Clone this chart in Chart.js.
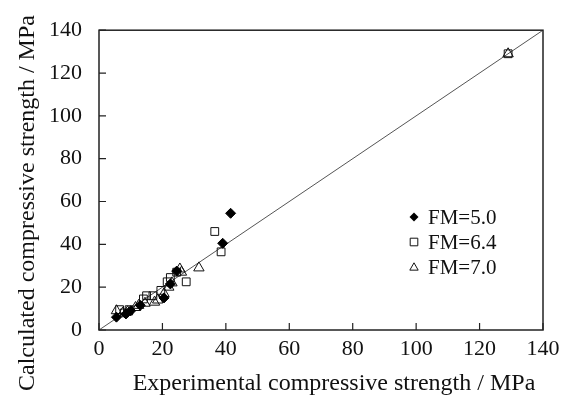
<!DOCTYPE html>
<html>
<head>
<meta charset="utf-8">
<script src="https://cdn.jsdelivr.net/npm/chart.js@4/dist/chart.umd.min.js"></script>
<style>
  html, body { margin: 0; padding: 0; background: #fff; }
  #wrap { width: 573px; height: 405px; }
</style>
</head>
<body>
<div id="wrap"><canvas id="chart" width="573" height="405"></canvas></div>
<script>
  "use strict";

  // measured points: [experimental, calculated]
  const fm50 = [[5.5, 6], [8.5, 7.5], [10, 9], [13, 11.5], [20.5, 15], [22.5, 21.5], [24.5, 27.5], [39, 40.5], [41.5, 54.5]];
  const fm64 = [[6.5, 9.5], [8, 8], [9.5, 9.5], [14, 14.5], [15, 16], [17, 16], [19.5, 18.5], [21.5, 22.5], [22.5, 24.5], [24.5, 27], [27.5, 22.5], [36.5, 46], [38.5, 36.5], [129, 129]];
  const fm70 = [[5.5, 9], [7.5, 8], [9, 8.5], [11.5, 10.5], [12.5, 11.5], [14.5, 12.5], [17.5, 13], [18.5, 14], [20.5, 17], [22, 20], [23, 22], [25.5, 28.5], [26, 27], [31.5, 29], [129, 129]];
  const diagonal = [[0, 0], [140, 140]];

  const legendLabels = ["FM=5.0", "FM=6.4", "FM=7.0"];
  const axisTicks = [0, 20, 40, 60, 80, 100, 120, 140];
  const xTitle = "Experimental compressive strength / MPa";
  const yTitle = "Calculated compressive strength / MPa";

  const serif = "'Liberation Serif', 'Times New Roman', serif";
  Chart.defaults.font.family = serif;
  Chart.defaults.color = "#111";

  const toXY = arr => arr.map(p => ({ x: p[0], y: p[1] }));

  function drawMarker(ctx, style, x, y, r) {
    ctx.save();
    ctx.lineWidth = 1;
    ctx.strokeStyle = "#111";
    ctx.beginPath();
    if (style === "rectRot") {
      ctx.moveTo(x, y - r); ctx.lineTo(x + r, y); ctx.lineTo(x, y + r); ctx.lineTo(x - r, y);
      ctx.closePath();
      ctx.fillStyle = "#000"; ctx.fill();
    } else if (style === "rect") {
      ctx.rect(x - r, y - r, 2 * r, 2 * r);
      ctx.fillStyle = "#fff"; ctx.fill(); ctx.stroke();
    } else {
      ctx.moveTo(x, y - r); ctx.lineTo(x + r, y + r * 0.75); ctx.lineTo(x - r, y + r * 0.75);
      ctx.closePath();
      ctx.fillStyle = "#fff"; ctx.fill(); ctx.stroke();
    }
    ctx.restore();
  }

  // frame, inward ticks, legend and axis titles
  const framePlugin = {
    id: "frame",
    afterDraw(chart) {
      const { ctx, chartArea: a, scales } = chart;
      ctx.save();
      ctx.strokeStyle = "#222";
      ctx.lineWidth = 1.5;
      ctx.strokeRect(a.left, a.top, a.right - a.left, a.bottom - a.top);
      ctx.lineWidth = 1.2;
      ctx.beginPath();
      axisTicks.forEach(v => {
        const px = scales.x.getPixelForValue(v);
        ctx.moveTo(px, a.bottom); ctx.lineTo(px, a.bottom - 7);
        const py = scales.y.getPixelForValue(v);
        ctx.moveTo(a.left, py); ctx.lineTo(a.left + 7, py);
      });
      ctx.stroke();

      // legend
      const styles = ["rectRot", "rect", "triangle"];
      const sizes = [4.5, 3.8, 4.2];
      ctx.font = "21px " + serif;
      ctx.fillStyle = "#111";
      ctx.textBaseline = "middle";
      ctx.textAlign = "left";
      legendLabels.forEach((lab, i) => {
        const y = 217 + i * 25;
        drawMarker(ctx, styles[i], 414, y, sizes[i]);
        ctx.fillText(lab, 428, y + 1);
      });

      // axis titles
      ctx.font = "24px " + serif;
      ctx.textAlign = "center";
      ctx.fillText(xTitle, 334, 384);
      ctx.translate(28, 203);
      ctx.rotate(-Math.PI / 2);
      ctx.fillText(yTitle, 0, 0);
      ctx.restore();
    }
  };

  new Chart(document.getElementById("chart"), {
    type: "scatter",
    data: {
      datasets: [
        {
          label: "line",
          type: "line",
          data: toXY(diagonal),
          borderColor: "#555",
          borderWidth: 1,
          pointRadius: 0,
          fill: false,
          order: 5
        },
        {
          label: legendLabels[0],
          data: toXY(fm50),
          pointStyle: "rectRot",
          pointRadius: 5,
          backgroundColor: "#000",
          borderColor: "#000",
          borderWidth: 1
        },
        {
          label: legendLabels[1],
          data: toXY(fm64),
          pointStyle: "rect",
          pointRadius: 5.5,
          backgroundColor: "rgba(255,255,255,0)",
          borderColor: "#111",
          borderWidth: 1
        },
        {
          label: legendLabels[2],
          data: toXY(fm70),
          pointStyle: "triangle",
          pointRadius: 6,
          backgroundColor: "rgba(255,255,255,0)",
          borderColor: "#111",
          borderWidth: 1
        }
      ]
    },
    options: {
      responsive: false,
      animation: false,
      layout: { padding: { top: 21, right: 30, left: 0, bottom: 0 } },
      plugins: {
        legend: { display: false },
        tooltip: { enabled: false }
      },
      scales: {
        x: {
          type: "linear",
          min: 0,
          max: 140,
          afterBuildTicks: s => { s.ticks = axisTicks.map(v => ({ value: v })); },
          afterFit: s => { s.height = 75; },
          grid: { display: false, drawTicks: false },
          border: { display: false },
          ticks: { padding: 6, color: "#111", font: { size: 22 } }
        },
        y: {
          type: "linear",
          min: 0,
          max: 140,
          afterBuildTicks: s => { s.ticks = axisTicks.map(v => ({ value: v })); },
          afterFit: s => { s.width = 99; },
          grid: { display: false, drawTicks: false },
          border: { display: false },
          ticks: { padding: 17, color: "#111", font: { size: 22 } }
        }
      }
    },
    plugins: [framePlugin]
  });
</script>
</body>
</html>
